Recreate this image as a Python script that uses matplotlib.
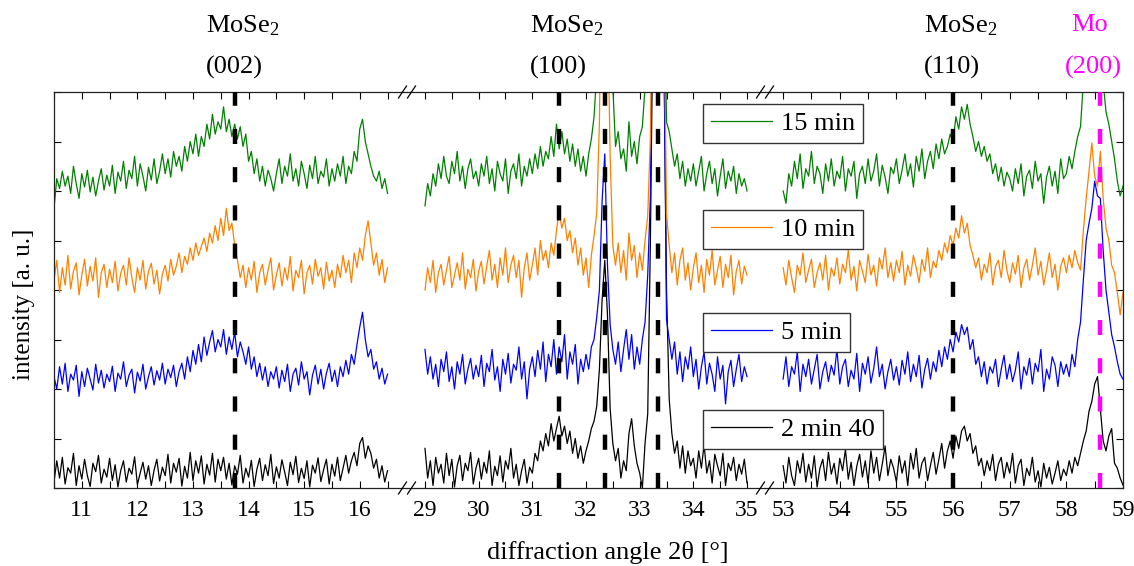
import matplotlib.pyplot as plt
import numpy as np
from matplotlib.lines import Line2D
from matplotlib.ticker import MultipleLocator

plt.rcParams['font.family'] = 'Liberation Serif'
plt.rcParams['mathtext.fontset'] = 'custom'
plt.rcParams['mathtext.rm'] = 'Liberation Serif'
plt.rcParams['mathtext.it'] = 'Liberation Serif:italic'

# scan windows in 2theta (deg), 0.05 deg steps
win_lo = (10.5, 16.5)
win_mid = (29.0, 35.0)
win_hi = (53.0, 59.0)

labels = ['2 min 40', '5 min', '10 min', '15 min']
colors = ['black', '#0000FF', '#FF8000', '#008000']
offsets = [0.0, 1.9, 3.9, 5.8]

# reflex positions
mose2_pos = [13.75, 31.5, 56.0]
mose2_hkl = ['(002)', '(100)', '(110)']
subst_pos = [32.35, 33.35]
mo_pos = 58.6

# ---- 2 min 40 ----
i_2m40_lo = [0.12,0.55,0.20,0.62,0.08,0.41,0.30,0.70,0.05,0.45,0.18,0.58,0.25,0.03,0.50,0.33,0.66,0.10,0.38,0.22,
             0.60,0.15,0.47,0.02,0.35,0.55,0.12,0.40,0.28,0.63,0.07,0.30,0.52,0.18,0.45,0.05,0.36,0.58,0.14,0.42,
             0.25,0.68,0.10,0.50,0.32,0.60,0.04,0.44,0.20,0.72,0.15,0.55,0.30,0.65,0.08,0.48,0.26,0.70,0.12,0.58,
             0.35,0.62,0.18,0.50,0.06,0.45,0.28,0.66,0.10,0.40,0.22,0.56,0.03,0.38,0.60,0.15,0.47,0.25,0.68,0.09,
             0.43,0.20,0.57,0.32,0.05,0.52,0.27,0.64,0.11,0.40,0.19,0.55,0.02,0.46,0.30,0.61,0.13,0.37,0.58,0.08,
             0.48,0.24,0.62,0.15,0.40,0.66,0.30,0.55,0.72,0.45,0.90,1.02,0.60,0.85,0.70,0.40,0.58,0.20,0.45,0.12,0.35]
i_2m40_mid = [0.80,0.20,0.55,0.05,0.62,0.30,0.48,0.10,0.70,0.25,0.58,0.02,0.45,0.66,0.15,0.50,0.35,0.72,0.08,0.40,
              0.60,0.18,0.52,0.30,0.75,0.05,0.44,0.25,0.65,0.12,0.55,0.38,0.80,0.20,0.48,0.05,0.35,0.58,0.10,0.42,
              0.30,0.70,0.55,0.95,0.75,1.10,0.85,1.30,0.95,1.20,1.45,1.05,1.25,0.90,1.15,0.70,1.00,0.60,0.85,0.50,
              0.75,0.95,1.20,1.35,1.65,2.40,3.80,4.60,3.50,1.60,0.90,0.55,0.80,0.20,0.55,0.35,1.10,1.40,0.85,0.50,
              0.30,0.00,0.90,1.50,5.00,10.0,14.0,15.0,13.0,9.00,4.00,1.80,1.10,0.70,0.95,0.40,0.85,0.30,0.75,0.45,
              0.60,0.20,0.75,0.40,0.88,0.30,0.55,0.10,0.68,0.45,0.25,0.70,0.05,0.50,0.35,0.62,0.15,0.48,0.28,0.58,0.10]
i_2m40_hi = [0.45,0.10,0.62,0.25,0.05,0.55,0.30,0.70,0.12,0.48,0.20,0.65,0.02,0.40,0.58,0.15,0.72,0.28,0.50,0.08,
             0.60,0.35,0.78,0.18,0.52,0.05,0.44,0.68,0.22,0.55,0.10,0.75,0.30,0.62,0.15,0.48,0.85,0.25,0.58,0.40,
             0.12,0.65,0.30,0.55,0.05,0.70,0.38,0.80,0.20,0.50,0.62,0.15,0.45,0.72,0.28,0.58,0.90,0.40,0.75,0.95,
             0.60,1.05,0.80,1.15,1.25,0.95,1.10,0.70,0.85,0.45,0.60,0.25,0.55,0.35,0.68,0.15,0.48,0.62,0.20,0.52,
             0.30,0.70,0.10,0.45,0.58,0.05,0.40,0.25,0.62,0.12,0.35,0.02,0.50,0.20,0.42,0.08,0.30,0.55,0.15,0.38,
             0.25,0.55,0.30,0.62,0.45,0.70,0.95,1.15,1.55,1.75,2.10,2.25,1.60,0.95,0.75,1.05,1.20,0.50,0.40,0.20,0.06]

# ---- 5 min ----
i_5m_lo = [0.35,0.10,0.55,0.20,0.62,0.05,0.40,0.28,0.58,-0.05,0.45,0.15,0.52,0.30,0.08,0.60,0.22,0.48,0.12,0.40,
           0.25,0.56,0.05,0.42,0.30,0.65,0.15,0.38,0.50,0.02,0.44,0.26,0.60,0.10,0.35,0.55,0.18,0.47,0.28,0.62,
           0.20,0.50,0.33,0.58,0.15,0.45,0.62,0.30,0.75,0.45,0.88,0.60,1.00,0.65,1.15,0.78,1.05,1.28,0.85,1.10,
           0.95,1.30,0.80,1.15,0.90,1.25,0.75,1.05,0.85,0.60,0.95,0.50,0.75,0.35,0.62,0.28,0.55,0.15,0.45,0.30,
           0.55,0.12,0.48,0.25,0.60,0.05,0.40,0.52,0.18,0.65,0.30,0.45,-0.02,0.38,0.58,0.20,0.50,0.10,0.42,0.62,
           0.25,0.48,0.15,0.55,0.35,0.68,0.40,0.80,0.60,1.00,1.35,1.65,1.10,0.75,0.90,0.50,0.65,0.30,0.52,0.20,0.40]
i_5m_mid = [0.90,0.40,0.75,0.30,0.60,0.15,0.70,0.45,0.85,0.25,0.55,0.10,0.65,0.40,0.80,0.20,0.50,0.72,0.30,0.58,
            0.35,0.78,0.15,0.62,0.45,0.90,0.28,0.55,0.05,0.70,0.40,0.82,0.22,0.60,0.48,0.95,0.30,0.65,-0.10,0.50,
            0.75,0.35,0.88,0.50,1.05,0.25,0.80,0.55,1.10,0.40,0.95,0.65,1.20,0.30,0.85,0.60,1.00,0.20,0.70,0.45,
            0.80,0.50,0.95,1.10,1.55,2.10,3.90,4.85,2.60,1.40,0.90,0.60,1.05,0.45,0.90,1.30,0.70,1.20,0.50,0.95,
            0.60,1.10,1.45,2.40,4.00,9.00,14.0,14.0,12.0,7.50,1.50,1.10,0.70,1.05,0.40,0.85,0.25,0.75,0.50,0.95,
            0.35,0.70,0.10,0.55,0.85,0.20,0.62,0.40,0.05,0.75,0.30,0.58,-0.20,0.45,0.68,0.15,0.50,0.80,0.25,0.55,0.35]
i_5m_hi = [0.30,0.75,0.15,0.55,0.40,0.85,0.05,0.60,0.35,0.70,0.20,0.50,0.80,0.10,0.45,0.65,0.25,0.58,0.38,0.90,
           0.20,0.55,0.70,0.15,0.48,0.30,0.82,0.05,0.62,0.40,0.75,0.22,0.52,0.95,0.35,0.60,0.10,0.45,0.70,0.28,
           0.55,0.18,0.68,0.40,0.85,0.25,0.60,0.35,0.78,0.12,0.50,0.72,0.30,0.65,0.45,0.88,0.55,0.95,0.70,1.10,
           0.85,1.25,1.05,1.40,1.20,1.35,0.90,1.10,0.60,0.75,0.35,0.65,0.20,0.55,0.42,0.70,0.15,0.50,0.78,0.30,
           0.60,0.25,0.48,0.85,0.10,0.55,0.38,0.72,0.20,0.62,0.45,0.90,0.05,0.50,0.30,0.75,0.58,0.15,0.65,0.40,
           0.60,0.35,0.80,0.55,1.10,1.45,2.30,3.10,3.45,3.75,4.30,4.00,3.95,2.90,2.10,1.65,1.20,0.95,0.65,0.40,0.30]

# ---- 10 min ----
i_10m_lo = [0.30,0.70,0.05,0.55,0.20,0.80,0.12,0.48,0.65,0.00,0.40,0.72,0.18,0.58,0.28,0.75,-0.05,0.45,0.62,0.15,
            0.52,0.25,0.68,0.08,0.44,0.60,0.20,0.75,0.35,0.05,0.55,0.30,0.70,0.12,0.48,0.64,0.22,0.50,0.02,0.42,
            0.60,0.28,0.72,0.40,0.58,0.85,0.45,0.78,0.62,0.95,0.70,1.05,0.80,0.98,1.15,0.88,1.25,1.05,1.40,1.10,
            1.55,1.20,1.75,1.30,1.45,1.00,0.70,0.35,0.60,0.15,0.55,0.30,0.68,0.05,0.45,0.62,0.20,0.50,0.75,0.10,
            0.40,0.65,0.18,0.55,0.30,0.78,0.08,0.50,0.35,0.70,0.02,0.45,0.60,0.22,0.72,0.38,0.55,0.12,0.66,0.28,
            0.50,0.15,0.62,0.35,0.80,0.45,0.70,0.25,0.85,0.55,0.95,0.70,1.20,1.50,1.05,0.60,0.85,0.40,0.72,0.25,0.55]
i_10m_mid = [0.10,0.55,0.25,0.70,0.05,0.45,0.62,0.20,0.50,0.78,0.15,0.40,0.65,0.30,0.85,0.12,0.52,0.35,0.72,0.08,
             0.48,0.68,0.22,0.58,0.90,0.30,0.62,0.15,0.75,0.40,0.95,0.25,0.60,0.80,0.35,0.70,-0.05,0.55,0.85,0.30,
             0.60,0.95,0.40,1.10,0.70,0.90,0.55,1.05,0.80,1.30,1.70,1.35,1.55,1.10,1.30,0.85,1.15,0.60,0.95,0.40,
             0.75,0.15,0.80,1.20,1.65,3.50,8.00,9.00,6.00,2.80,1.00,0.60,1.05,0.45,0.90,0.30,1.25,0.70,1.00,0.35,
             0.85,0.50,1.10,1.60,3.20,8.00,13.0,14.0,11.0,6.50,1.65,1.00,0.45,0.85,0.20,0.70,0.95,0.30,0.65,0.10,
             0.55,0.85,0.25,0.60,0.05,0.72,0.40,0.90,0.20,0.50,0.78,0.15,0.62,0.35,0.80,0.00,0.48,0.70,0.22,0.58,0.40]
i_10m_hi = [0.55,0.20,0.70,0.35,0.05,0.60,0.40,0.85,0.25,0.50,0.72,0.15,0.45,0.65,0.30,0.80,0.10,0.55,0.38,0.75,
            0.22,0.62,0.45,0.90,0.30,0.58,0.08,0.70,0.48,0.25,0.82,0.40,0.60,0.18,0.75,0.52,0.95,0.35,0.65,0.28,
            0.70,0.45,0.88,0.20,0.60,0.38,0.80,0.55,0.25,0.72,0.48,0.95,0.35,0.68,0.55,0.90,0.70,1.05,0.85,1.20,
            1.00,1.35,1.15,1.60,1.25,1.45,1.00,0.80,0.55,0.75,0.30,0.62,0.45,0.85,0.20,0.58,0.70,0.35,0.90,0.50,
            0.25,0.65,0.42,0.80,0.15,0.55,0.72,0.30,0.60,0.95,0.40,0.68,0.20,0.50,0.85,0.35,0.62,0.10,0.58,0.75,
            0.45,0.80,0.55,0.90,0.65,0.50,1.30,1.95,2.50,3.07,2.40,2.20,2.90,1.95,1.35,1.10,0.60,0.45,0.05,-0.40,0.05]

# ---- 15 min ----
i_15m_lo = [-0.15,0.45,0.25,0.60,0.30,0.50,0.15,0.70,0.35,0.05,0.55,0.28,0.62,0.18,0.48,0.10,0.40,0.65,0.22,0.52,
            0.30,0.72,0.15,0.58,0.40,0.80,0.25,0.62,0.45,0.90,0.30,0.75,0.50,0.20,0.68,0.42,0.85,0.35,0.60,0.95,
            0.55,0.85,0.48,1.00,0.70,0.90,0.60,1.10,0.80,1.20,0.95,1.35,0.90,1.30,1.10,1.55,1.25,1.75,1.35,1.60,
            1.45,1.90,1.40,1.65,1.30,1.55,1.25,1.50,1.10,1.35,0.80,1.00,0.55,0.85,0.40,0.70,0.30,0.62,0.45,0.20,
            0.55,0.85,0.35,0.70,0.50,0.95,0.40,0.65,0.30,0.80,0.55,0.25,0.72,0.45,0.90,0.35,0.60,0.48,0.85,0.30,
            0.65,0.40,0.75,0.50,0.90,0.35,0.70,0.55,1.00,0.80,1.45,1.65,1.20,0.95,0.70,0.50,0.40,0.60,0.25,0.45,0.15]
i_15m_mid = [-0.10,0.35,0.10,0.55,0.30,0.75,0.45,0.90,0.50,0.35,0.80,0.55,1.00,0.40,0.70,0.25,0.65,0.85,0.45,0.60,
             0.30,0.75,0.50,0.90,0.35,0.65,0.20,0.80,0.55,0.40,0.85,0.15,0.60,0.75,0.45,0.95,0.30,0.70,0.50,0.85,
             0.55,0.95,0.65,1.10,0.70,1.00,0.85,1.30,0.90,1.55,1.05,1.40,0.95,1.25,0.80,1.15,0.70,1.05,0.60,0.90,
             0.50,0.95,1.25,1.70,2.60,4.50,6.00,6.00,5.00,3.50,2.30,1.10,1.40,0.85,1.05,0.60,1.60,0.90,1.20,0.75,
             1.30,1.50,2.30,5.00,8.00,10.0,12.0,12.0,10.0,5.00,1.60,1.40,1.05,0.70,0.95,0.45,0.80,0.30,0.65,0.40,
             0.75,0.30,0.60,0.90,0.20,0.55,0.80,0.35,0.65,0.10,0.50,0.85,0.25,0.60,0.40,0.70,0.15,0.55,0.30,0.45,0.20]
i_15m_hi = [0.20,-0.05,0.55,0.30,0.80,0.45,0.95,0.25,0.65,0.50,1.00,0.35,0.70,0.55,0.15,0.75,0.40,0.85,0.30,0.60,
            0.45,0.90,0.20,0.65,0.50,0.80,0.05,0.55,0.70,0.35,0.85,0.40,0.60,0.95,0.30,0.72,0.48,0.15,0.68,0.55,
            0.85,0.35,0.62,0.95,0.50,0.75,0.28,0.90,0.60,1.05,0.45,0.80,1.00,0.65,1.15,0.85,1.25,0.95,1.10,1.35,
            1.20,1.70,1.45,1.90,1.65,1.95,1.55,1.30,1.00,1.20,0.90,1.10,0.80,0.95,0.55,0.75,0.40,0.68,0.30,0.58,
            0.45,0.20,0.65,0.35,0.75,0.10,0.50,0.62,0.25,0.80,0.40,0.55,-0.05,0.48,0.70,0.30,0.60,0.15,0.85,0.45,
            0.55,0.90,0.65,1.00,1.30,1.50,2.40,4.00,6.00,7.00,7.00,6.00,4.00,2.40,1.80,1.55,1.20,0.85,0.40,0.10,0.30]

series = [
    (i_2m40_lo, i_2m40_mid, i_2m40_hi),
    (i_5m_lo, i_5m_mid, i_5m_hi),
    (i_10m_lo, i_10m_mid, i_10m_hi),
    (i_15m_lo, i_15m_mid, i_15m_hi),
]

W, H = 1134, 566
fig = plt.figure(figsize=(W / 100, H / 100), dpi=100)

# panel edges in pixels, axes box from y=92 to y=488
y_top, y_bot = 92, 488
edges = [(54, 407), (407, 765), (765, 1123)]
xlims = [(10.5, 16.85), (28.665, 35.335), (52.68, 59.0)]
wins = [win_lo, win_mid, win_hi]

axes = []
for (x0, x1), lim in zip(edges, xlims):
    ax = fig.add_axes([x0 / W, 1 - y_bot / H, (x1 - x0) / W, (y_bot - y_top) / H])
    ax.set_xlim(*lim)
    ax.set_ylim(0, 8)
    ax.xaxis.set_major_locator(MultipleLocator(1))
    ax.xaxis.set_minor_locator(MultipleLocator(0.5))
    ax.set_yticks(np.arange(0, 9))
    ax.tick_params(which='both', direction='in', top=True, length=5, width=0.8,
                   labelsize=17, pad=9, labelleft=False)
    for sp in ax.spines.values():
        sp.set_linewidth(0.9)
        sp.set_color('#222222')
    axes.append(ax)

axes[0].spines['right'].set_visible(False)
axes[0].tick_params(axis='y', left=True, right=False)
axes[1].spines['left'].set_visible(False)
axes[1].spines['right'].set_visible(False)
axes[1].tick_params(axis='y', left=False, right=False)
axes[2].spines['left'].set_visible(False)
axes[2].tick_params(axis='y', left=False, right=True, labelright=False)

handles = []
for segs, col, off, lab in zip(series, colors, offsets, labels):
    for ax, win, vals in zip(axes, wins, segs):
        x = np.linspace(win[0], win[1], len(vals))
        ln, = ax.plot(x, np.array(vals) + off, color=col, lw=0.9, label=lab)
    handles.append(ln)

# reflex markers
dash = dict(lw=3.2, dashes=(3.4, 5.2), zorder=4)
axes[0].axvline(mose2_pos[0], color='black', **dash)
axes[1].axvline(mose2_pos[1], color='black', **dash)
for p in subst_pos:
    axes[1].axvline(p, color='black', **dash)
axes[2].axvline(mose2_pos[2], color='black', **dash)
axes[2].axvline(mo_pos, color='#FF00FF', **dash)

# phase labels above the plot
for ax, p, hkl in zip(axes, mose2_pos, mose2_hkl):
    ax.annotate('MoSe$_2$', xy=(p, 1), xycoords=('data', 'axes fraction'),
                xytext=(-21, 48), textcoords='offset points', ha='left', va='center', fontsize=19)
    ax.annotate(hkl, xy=(p, 1), xycoords=('data', 'axes fraction'),
                xytext=(-21, 18), textcoords='offset points', ha='left', va='center', fontsize=19)
axes[2].annotate('Mo', xy=(mo_pos, 1), xycoords=('data', 'axes fraction'),
                 xytext=(-8, 48), textcoords='offset points', ha='center', va='center',
                 fontsize=19, color='#FF00FF')
axes[2].annotate('(200)', xy=(mo_pos, 1), xycoords=('data', 'axes fraction'),
                 xytext=(-5, 18), textcoords='offset points', ha='center', va='center',
                 fontsize=19, color='#FF00FF')

# axis break marks
for cx in (407, 765):
    for cy in (y_top, y_bot):
        for dx in (-4.5, 4.5):
            xs = [(cx + dx - 4) / W, (cx + dx + 4) / W]
            ys = [1 - (cy + 6) / H, 1 - (cy - 6) / H]
            fig.add_artist(Line2D(xs, ys, color='black', lw=0.9))

# one framed legend per series, stacked
leg_top = {'15 min': 104, '10 min': 210, '5 min': 313, '2 min 40': 410}
for h, lab in zip(handles, labels):
    fig.legend(handles=[h], labels=[lab], loc='upper left',
               bbox_to_anchor=(703 / W, 1 - leg_top[lab] / H), fontsize=19,
               frameon=True, fancybox=False, framealpha=1, edgecolor='#333333',
               borderpad=0.3, borderaxespad=0, handlelength=2.3, handletextpad=0.35)

fig.text(608 / W, 1 - 552 / H, 'diffraction angle 2θ [°]', ha='center', va='center', fontsize=19)
fig.text(24 / W, 1 - 304 / H, 'intensity [a. u.]', ha='center', va='center',
         rotation=90, fontsize=18)

fig.savefig('out.png', dpi=100)
